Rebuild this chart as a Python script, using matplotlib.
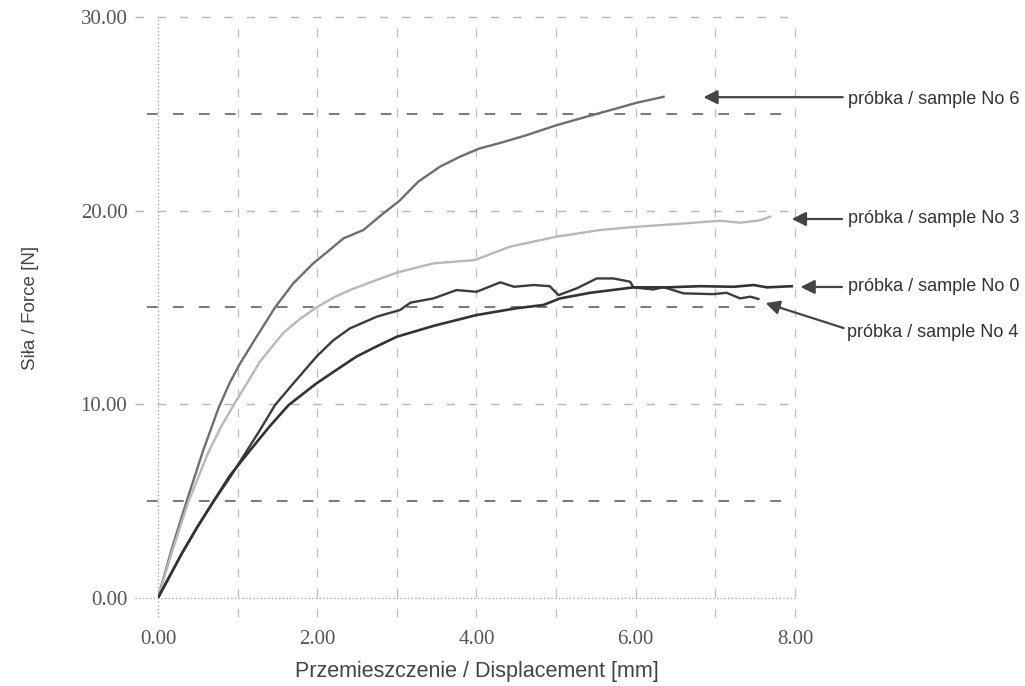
"""
Siła / przemieszczenie - próbki 0, 3, 4, 6
"""
import matplotlib
matplotlib.use('Agg')
import matplotlib.pyplot as plt
import numpy as np

# --- dane ---
x6 = [0, 0.17, 0.36, 0.57, 0.76, 0.9, 1.03, 1.24, 1.47, 1.70, 1.95, 2.15, 2.33, 2.58,
      2.83, 3.03, 3.27, 3.54, 3.80, 4.03, 4.30, 4.63, 5.01, 5.38, 5.76, 6.01, 6.35]
y6 = [0, 2.48, 5.0, 7.64, 9.8, 11.1, 12.1, 13.5, 15.0, 16.25, 17.28, 17.95, 18.57, 19.0,
      19.86, 20.5, 21.5, 22.27, 22.8, 23.2, 23.5, 23.9, 24.42, 24.85, 25.28, 25.57, 25.88]

x3 = [0, 0.17, 0.38, 0.63, 0.8, 0.97, 1.15, 1.28, 1.57, 1.78, 1.99, 2.2, 2.41, 2.7, 3.0,
      3.46, 3.98, 4.42, 5.01, 5.55, 6.01, 6.51, 7.06, 7.31, 7.56, 7.69]
y3 = [0, 2.3, 4.94, 7.5, 8.9, 10.1, 11.3, 12.2, 13.67, 14.4, 15.0, 15.5, 15.9, 16.35,
      16.8, 17.28, 17.45, 18.14, 18.66, 19.0, 19.17, 19.31, 19.48, 19.38, 19.5, 19.69]

x4 = [0, 0.3, 0.5, 0.69, 0.9, 1.07, 1.27, 1.47, 1.70, 1.99, 2.2, 2.41, 2.75, 3.04,
      3.17, 3.46, 3.75, 4.0, 4.30, 4.47, 4.72, 4.92, 5.03, 5.26, 5.51, 5.72, 5.93,
      5.97, 6.22, 6.35, 6.60, 6.97, 7.14, 7.31, 7.44, 7.54]
y4 = [0, 2.3, 3.7, 4.94, 6.2, 7.3, 8.6, 9.96, 11.08, 12.46, 13.3, 13.92, 14.53, 14.87,
      15.25, 15.47, 15.9, 15.81, 16.3, 16.07, 16.16, 16.1, 15.64, 15.99, 16.5, 16.5,
      16.33, 16.04, 15.93, 16.05, 15.73, 15.69, 15.76, 15.47, 15.56, 15.44]

x0 = [0, 0.3, 0.5, 0.69, 0.9, 1.16, 1.4, 1.64, 1.99, 2.25, 2.49, 2.75, 3.0, 3.46,
      4.0, 4.50, 4.84, 5.05, 5.43, 5.76, 5.97, 6.39, 6.81, 7.23, 7.48, 7.65, 7.96]
y0 = [0, 2.3, 3.7, 4.94, 6.3, 7.64, 8.85, 9.96, 11.08, 11.8, 12.46, 13.0, 13.49, 14.05,
      14.61, 14.96, 15.13, 15.47, 15.76, 15.93, 16.04, 16.04, 16.1, 16.07, 16.16,
      16.04, 16.1]

labels = ['próbka / sample No 6', 'próbka / sample No 3',
          'próbka / sample No 0', 'próbka / sample No 4']

serif = 'Liberation Serif'
sans = 'Liberation Sans'

fig = plt.figure(figsize=(10.25, 6.86), dpi=100)
ax = fig.add_axes([0.1541, 0.1283, 0.6215, 0.8469])
ax.set_xlim(0, 8)
ax.set_ylim(0, 30)
for s in ax.spines.values():
    s.set_visible(False)

# siatka
for v in range(1, 9):
    ax.axvline(v, ymin=-0.033, ymax=1, color='#bdbdbd', lw=0.9,
               dashes=(7, 9), clip_on=False, zorder=1)
for h in (10, 20, 30):
    ax.axhline(h, xmin=-0.036, xmax=1, color='#b5b5b5', lw=1.0,
               dashes=(6, 10), clip_on=False, zorder=1)
for h in (5, 15, 25):
    ax.axhline(h, xmin=-0.017, xmax=1, color='#555555', lw=1.1,
               dashes=(7, 10), clip_on=False, zorder=1)
ax.axvline(0, ymin=-0.033, ymax=1, color='#aaaaaa', lw=1.0, ls=':', clip_on=False)
ax.axhline(0, xmin=-0.036, xmax=1, color='#aaaaaa', lw=1.0, ls=':', clip_on=False)

# krzywe
ax.plot(x6, y6, color='#6e6e6e', lw=1.7, zorder=3)
ax.plot(x3, y3, color='#b8b8b8', lw=1.7, zorder=3)
ax.plot(x4, y4, color='#3c3c3c', lw=1.7, zorder=3)
ax.plot(x0, y0, color='#333333', lw=1.9, zorder=3)

ax.set_xticks([0, 2, 4, 6, 8])
ax.set_xticklabels(['%.2f' % v for v in [0, 2, 4, 6, 8]])
ax.set_yticks([0, 10, 20, 30])
ax.set_yticklabels(['%.2f' % v for v in [0, 10, 20, 30]])
ax.tick_params(length=0, labelsize=15, labelcolor='#555555')
ax.tick_params(axis='x', pad=23)
ax.tick_params(axis='y', pad=22)
for t in ax.get_xticklabels() + ax.get_yticklabels():
    t.set_family(serif)

ax.set_xlabel('Przemieszczenie / Displacement [mm]', fontsize=15.5,
              family=sans, color='#444444', labelpad=9)
ax.set_ylabel('Siła / Force [N]', fontsize=13.5, family=sans,
              color='#444444', labelpad=30)

# opisy ze strzałkami
arrows = [((6.85, 25.86), (8.60, 25.86), (8.67, 25.76)),
          ((7.96, 19.57), (8.59, 19.57), (8.67, 19.57)),
          ((8.07, 16.06), (8.59, 16.06), (8.67, 16.06)),
          ((7.63, 15.23), (8.61, 13.94), (8.65, 13.73))]
for lab, (head, tail, txt) in zip(labels, arrows):
    ax.annotate('', xy=head, xytext=tail, annotation_clip=False,
                arrowprops=dict(arrowstyle='-|>', color='#444444', lw=1.6,
                                mutation_scale=21, shrinkA=0, shrinkB=0))
    ax.text(txt[0], txt[1], lab, ha='left', va='center', fontsize=13,
            family=sans, color='#333333', clip_on=False)

fig.savefig('out.png', dpi=100)
